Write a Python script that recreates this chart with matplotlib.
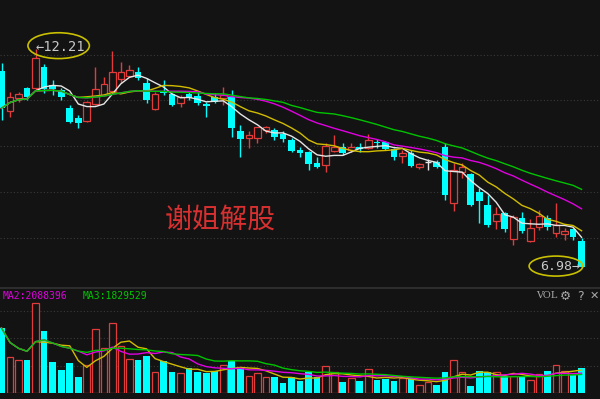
import numpy as np
import pandas as pd
import matplotlib
matplotlib.use("Agg")
import matplotlib.pyplot as plt
from matplotlib.patches import Ellipse

# ---------------- data ----------------
opens = [11.68, 10.72, 11.03, 11.27, 11.27, 11.78, 11.35, 11.23, 10.79, 10.55,
         10.48, 10.89, 11.11, 11.20, 11.49, 11.56, 11.66, 11.39, 10.77, 11.18,
         11.13, 10.91, 11.13, 11.08, 10.89, 11.06, 11.03, 11.06, 10.24, 10.07,
         10.07, 10.27, 10.27, 10.17, 10.03, 9.79, 9.74, 9.47, 9.43, 9.76,
         9.86, 9.79, 9.86, 9.83, 9.98, 9.98, 9.81, 9.64, 9.71, 9.38,
         9.50, 9.50, 9.86, 8.51, 9.26, 9.21, 8.78, 8.47, 8.08, 8.27,
         7.65, 8.15, 7.60, 7.94, 8.15, 7.79, 7.77, 7.89, 7.60]
highs = [11.87, 11.18, 11.18, 11.30, 12.21, 11.85, 11.47, 11.27, 10.87, 10.63,
         10.96, 11.78, 11.54, 12.16, 11.90, 11.83, 11.78, 11.51, 11.18, 11.47,
         11.15, 11.11, 11.20, 11.18, 10.94, 11.15, 11.30, 11.23, 10.39, 10.24,
         10.35, 10.36, 10.31, 10.24, 10.07, 9.86, 9.76, 9.62, 9.95, 10.15,
         9.95, 9.95, 9.95, 10.17, 10.05, 10.00, 9.83, 9.79, 9.79, 9.47,
         9.57, 9.55, 9.95, 9.47, 9.47, 9.23, 8.87, 8.71, 8.42, 8.30,
         8.23, 8.30, 8.13, 8.35, 8.23, 8.51, 7.91, 7.91, 7.67]
lows = [10.51, 10.58, 10.94, 10.99, 11.23, 11.15, 11.11, 10.99, 10.43, 10.31,
        10.46, 10.87, 11.08, 11.15, 11.39, 11.54, 11.47, 10.91, 10.75, 11.11,
        10.84, 10.82, 10.99, 10.87, 10.58, 10.91, 10.87, 10.10, 9.62, 9.83,
        9.95, 10.19, 10.03, 9.98, 9.74, 9.62, 9.31, 9.35, 9.26, 9.74,
        9.67, 9.74, 9.74, 9.81, 9.83, 9.79, 9.55, 9.47, 9.38, 9.33,
        9.31, 9.35, 8.59, 8.32, 9.11, 8.44, 8.03, 7.94, 7.89, 7.82,
        7.51, 7.79, 7.58, 7.87, 7.87, 7.70, 7.63, 7.63, 6.98]
closes = [10.79, 11.06, 11.13, 11.06, 11.99, 11.25, 11.25, 11.06, 10.46, 10.43,
          10.94, 11.25, 11.37, 11.66, 11.66, 11.71, 11.51, 10.99, 11.13, 11.15,
          10.87, 11.06, 11.03, 10.91, 10.84, 10.94, 11.11, 10.31, 10.05, 10.15,
          10.34, 10.34, 10.10, 10.05, 9.76, 9.71, 9.45, 9.38, 9.88, 9.86,
          9.71, 9.86, 9.81, 10.03, 9.95, 9.81, 9.62, 9.71, 9.40, 9.45,
          9.50, 9.38, 8.71, 9.31, 9.38, 8.47, 8.56, 7.99, 8.25, 7.89,
          8.18, 7.84, 7.91, 8.20, 7.94, 7.99, 7.84, 7.70, 6.98]
volumes_m = [7.15, 3.96, 3.63, 3.63, 9.90, 6.82, 3.41, 2.53, 3.30, 1.76,
             3.08, 7.04, 4.95, 7.70, 5.17, 3.74, 3.63, 4.07, 2.31, 3.52,
             2.31, 2.20, 2.75, 2.31, 2.20, 2.42, 3.08, 3.52, 2.86, 1.87,
             2.20, 1.76, 1.76, 1.10, 1.76, 1.32, 2.31, 1.76, 2.97, 2.31,
             1.21, 1.65, 1.32, 2.64, 1.43, 1.54, 1.32, 1.65, 1.65, 0.88,
             1.21, 0.88, 2.31, 3.63, 2.31, 0.77, 2.42, 2.31, 2.31, 1.87,
             1.87, 1.87, 1.43, 2.09, 2.42, 3.08, 2.42, 1.98, 2.75]
price_ma_windows = [5, 10, 20, 30]
vol_ma_windows = [5, 10, 20]
watermark = "谢姐解股"
vol_ma_labels = ["MA2:2088396", "MA3:1829529"]

# ---------------- style ----------------
BG = "#131313"
RED = "#e03c3c"
CYAN = "#00ffff"
GRID = "#3a3a3a"
ma_colors = ["#e6e6e6", "#d2bc00", "#e000e0", "#00c400"]
vol_ma_colors = ["#d2bc00", "#e000e0", "#00c400"]

o = np.array(opens); h = np.array(highs); l = np.array(lows); c = np.array(closes)
v = np.array(volumes_m) * 1e6
n = len(o)
x = np.arange(n)
up = c > o
down = c < o
doji = c == o

fig = plt.figure(figsize=(6.0, 3.99), dpi=100, facecolor=BG)
ax = fig.add_axes([0, 0.2807, 1, 0.7193], facecolor=BG)
axv = fig.add_axes([0, 0.0150, 1, 0.2607], facecolor=BG)

for a in (ax, axv):
    for s in a.spines.values():
        s.set_visible(False)
    a.tick_params(left=False, bottom=False, labelleft=False, labelbottom=False)
    a.set_xlim(-0.176, 70.16)

# price panel
ax.set_ylim(6.498, 13.386)
ax.set_yticks([7.67, 8.78, 9.88, 10.99, 12.07])
ax.grid(axis="y", color=GRID, linestyle=(0, (1, 2)), linewidth=0.8)
ax.set_axisbelow(True)

W = 0.78
ax.vlines(x[up], l[up], h[up], color=RED, linewidth=1.0, zorder=2)
ax.vlines(x[down], l[down], h[down], color=CYAN, linewidth=1.0, zorder=2)
ax.vlines(x[doji], l[doji], h[doji], color="#e6e6e6", linewidth=1.0, zorder=2)
ax.bar(x[up], (c - o)[up], bottom=o[up], width=W, facecolor=BG,
       edgecolor=RED, linewidth=0.9, zorder=3)
ax.bar(x[down], (o - c)[down], bottom=c[down], width=W, color=CYAN,
       linewidth=0, zorder=3)
ax.hlines(o[doji], x[doji] - W / 2, x[doji] + W / 2, color="#e6e6e6",
          linewidth=1.0, zorder=3)

cs = pd.Series(c)
for w, col in zip(price_ma_windows, ma_colors):
    ax.plot(x, cs.rolling(w, min_periods=1).mean(), color=col,
            linewidth=1.0, zorder=4)

# annotations of extremes
imax = int(np.argmax(h)); imin = int(np.argmin(l))
ax.text(imax + 0.05, h[imax] + 0.04, "←12.21", ha="left", va="center",
        color="#c8c8c8", fontsize=9.8, family="DejaVu Sans Mono", zorder=6)
ax.add_patch(Ellipse((imax + 2.7, h[imax] + 0.08), 7.2, 0.62, fill=False,
                     edgecolor="#c8c000", linewidth=1.2, zorder=6))
ax.text(imin - 0.2, l[imin], "6.98→", ha="right", va="center",
        color="#c8c8c8", fontsize=9.5, family="DejaVu Sans Mono", zorder=6)
ax.add_patch(Ellipse((imin - 3.0, l[imin] + 0.02), 6.3, 0.48, fill=False,
                     edgecolor="#c8c000", linewidth=1.2, zorder=6))

fig.text(0.367, 0.45, watermark, color="#d83030", fontsize=20,
         family=["Noto Sans CJK SC", "DejaVu Sans"], ha="center", va="center")

# volume panel
axv.set_ylim(0, 11.44e6)
axv.set_yticks([0.05e6, 2.97e6, 6.05e6, 9.02e6])
axv.grid(axis="y", color=GRID, linestyle=(0, (1, 2)), linewidth=0.8)
axv.set_axisbelow(True)
vup = c >= o
axv.bar(x[vup], v[vup], width=W, facecolor=BG, edgecolor=RED,
        linewidth=0.9, zorder=3)
axv.bar(x[~vup], v[~vup], width=W, color=CYAN, linewidth=0, zorder=3)
vs = pd.Series(v)
for w, col in zip(vol_ma_windows, vol_ma_colors):
    axv.plot(x, vs.rolling(w, min_periods=1).mean(), color=col,
             linewidth=1.0, zorder=4)

# separator and header of the volume panel
fig.add_artist(plt.Line2D([0, 1], [1 - 288 / 399] * 2, color="#333333",
                          linewidth=1.2, transform=fig.transFigure))
ly = 1 - 296 / 399
fig.text(0.005, ly, vol_ma_labels[0], color="#e000e0", fontsize=7,
         family="DejaVu Sans Mono", va="center", ha="left")
fig.text(0.138, ly, vol_ma_labels[1], color="#00c400", fontsize=7,
         family="DejaVu Sans Mono", va="center", ha="left")
fig.text(0.893, ly, "VOL", color="#a8a8a8", fontsize=7,
         family="DejaVu Serif", va="center", ha="left")
fig.text(0.942, ly, "⚙", color="#a8a8a8", fontsize=9,
         family="DejaVu Sans", va="center", ha="center")
fig.text(0.967, ly, "?", color="#a8a8a8", fontsize=9,
         family="DejaVu Sans", va="center", ha="center")
fig.text(0.990, ly, "✕", color="#a8a8a8", fontsize=8,
         family="DejaVu Sans", va="center", ha="center")

fig.savefig("out.png", dpi=100, facecolor=BG)
